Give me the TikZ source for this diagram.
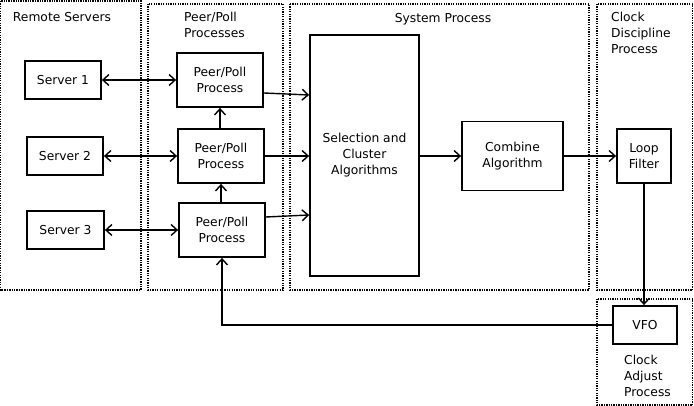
\documentclass[tikz,border=0pt]{standalone}
\usepackage{fontspec}
\setmainfont{DejaVu Sans}
\usetikzlibrary{arrows.meta}
\begin{document}
\begin{tikzpicture}[x=1pt,y=-1pt,
  txt/.style={font=\fontsize{12.3}{16}\selectfont},
  box/.style={draw, line width=1.8pt, inner sep=0pt, align=center, txt},
  grp/.style={draw, line width=1.4pt, dash pattern=on 1.3pt off 1.1pt},
  lbl/.style={inner sep=0pt, txt},
  arr/.style={line width=1.4pt, -{Straight Barb[length=6pt,width=11pt]}},
  barr/.style={line width=1.4pt, {Straight Barb[length=6pt,width=11pt]}-{Straight Barb[length=6pt,width=11pt]}}]
\useasboundingbox (0,0) rectangle (694,406);
% groups
\draw[grp] (0.7,1) rectangle (141,290);
\draw[grp] (148,4) rectangle (283,290);
\draw[grp] (290,4) rectangle (589,290);
\draw[grp] (597,4) rectangle (692.5,290);
\draw[grp] (597,299) rectangle (692.5,405);
% group labels
\node[lbl] (lrs) at (62,17) {Remote Servers};
\node[lbl, align=left, anchor=west] (lpp) at (184,24.5) {Peer/Poll\\Processes};
\node[lbl] (lsp) at (443,19) {System Process};
\node[lbl, align=left, anchor=west] (lcd) at (611,32.5) {Clock\\Discipline\\Process};
\node[lbl, align=left, anchor=west] (lca) at (624,375.5) {Clock\\Adjust\\Process};
% boxes
\node[box, minimum width=76pt, minimum height=38pt] (s1) at (63,80) {Server 1};
\node[box, minimum width=76pt, minimum height=38pt] (s2) at (65,156) {Server 2};
\node[box, minimum width=77pt, minimum height=38pt] (s3) at (65.5,230) {Server 3};
\node[box, minimum width=86pt, minimum height=54pt] (p1) at (220,80) {Peer/Poll\\Process};
\node[box, minimum width=86pt, minimum height=54pt] (p2) at (221,156) {Peer/Poll\\Process};
\node[box, minimum width=86pt, minimum height=54pt] (p3) at (222,230) {Peer/Poll\\Process};
\node[box, minimum width=109pt, minimum height=241pt] (sel) at (364.5,155.5) {Selection and\\Cluster\\Algorithms};
\node[box, minimum width=101pt, minimum height=69pt] (comb) at (512.5,156) {Combine\\Algorithm};
\node[box, minimum width=54pt, minimum height=54pt] (loop) at (644,156) {Loop\\Filter};
\node[box, minimum width=64pt, minimum height=38pt] (vfo) at (645,325) {VFO};
% connectors
\draw[barr] (s1.east) -- (p1.west);
\draw[barr] (s2.east) -- (p2.west);
\draw[barr] (s3.east) -- (p3.west);
\draw[arr] (p2.north -| 220,0) -- (p1.south -| 220,0);
\draw[arr] (p3.north -| 221,0) -- (p2.south -| 221,0);
\draw[arr] (p1.east |- 0,93) -- (sel.west |- 0,95);
\draw[arr] (p2.east) -- (sel.west |- p2.east);
\draw[arr] (p3.east |- 0,217) -- (sel.west |- 0,215);
\draw[arr] (sel.east |- comb.west) -- (comb.west);
\draw[arr] (comb.east) -- (loop.west);
\draw[arr] (loop.south) -- (vfo.north -| loop.south);
\draw[arr] (vfo.west) -| (p3.south);
\end{tikzpicture}
\end{document}
